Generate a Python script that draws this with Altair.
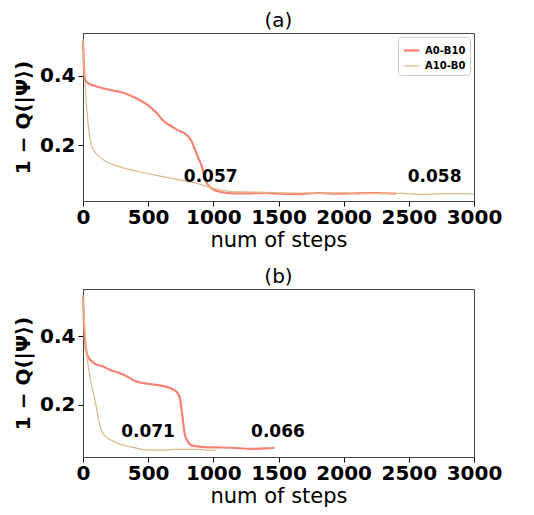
import altair as alt
import pandas as pd

# Panel (a)
a_red_x = [0, 12, 20, 40, 100, 200, 320, 420, 500, 560, 627, 680, 729, 780, 806, 835, 857, 880, 908, 930, 946, 975, 1010, 1060, 1138, 1250, 1394, 1500, 1650, 1800, 1950, 2100, 2250, 2400]
a_red_y = [0.50, 0.40, 0.386, 0.378, 0.370, 0.360, 0.350, 0.333, 0.315, 0.295, 0.267, 0.255, 0.243, 0.235, 0.226, 0.21, 0.19, 0.168, 0.143, 0.115, 0.095, 0.080, 0.071, 0.066, 0.062, 0.062, 0.063, 0.061, 0.060, 0.063, 0.061, 0.062, 0.063, 0.061]
a_brn_x = [0, 8, 18, 38, 64, 90, 115, 170, 243, 350, 499, 600, 678, 780, 882, 950, 1010, 1138, 1250, 1394, 1550, 1700, 1850, 2000, 2150, 2300, 2450, 2600, 2750, 2900, 3000]
a_brn_y = [0.505, 0.43, 0.362, 0.267, 0.200, 0.182, 0.171, 0.155, 0.143, 0.131, 0.119, 0.111, 0.105, 0.098, 0.090, 0.082, 0.076, 0.067, 0.066, 0.065, 0.063, 0.063, 0.062, 0.063, 0.061, 0.062, 0.062, 0.059, 0.061, 0.061, 0.060]
a_lab_x = [980, 2698]
a_lab_y = [0.109, 0.109]
a_lab_t = ["0.057", "0.058"]

# Panel (b)
b_red_x = [0, 10, 20, 38, 90, 150, 217, 270, 320, 370, 422, 500, 575, 630, 678, 710, 729, 745, 754, 768, 780, 800, 831, 880, 933, 1040, 1138, 1292, 1400, 1471]
b_red_y = [0.52, 0.42, 0.37, 0.340, 0.320, 0.312, 0.300, 0.294, 0.286, 0.275, 0.266, 0.261, 0.257, 0.253, 0.247, 0.240, 0.232, 0.215, 0.193, 0.150, 0.115, 0.095, 0.081, 0.078, 0.076, 0.075, 0.074, 0.071, 0.072, 0.074]
b_brn_x = [0, 12, 26, 45, 64, 85, 102, 120, 141, 170, 217, 290, 371, 430, 499, 600, 700, 754, 882, 960, 1023]
b_brn_y = [0.52, 0.43, 0.359, 0.30, 0.260, 0.225, 0.193, 0.155, 0.125, 0.108, 0.096, 0.084, 0.076, 0.071, 0.068, 0.067, 0.069, 0.069, 0.069, 0.067, 0.066]
b_lab_x = [499, 1496]
b_lab_y = [0.12, 0.12]
b_lab_t = ["0.071", "0.066"]

series = ["A0-B10", "A10-B0"]
colors = ["#fa8072", "#deb887"]
widths = [2.2, 1.2]
x_ticks = [0, 500, 1000, 1500, 2000, 2500, 3000]
y_ticks = [0.2, 0.4]


def lines_df(rx, ry, bx, by):
    rows = [{"step": x, "val": y, "series": series[0]} for x, y in zip(rx, ry)]
    rows += [{"step": x, "val": y, "series": series[1]} for x, y in zip(bx, by)]
    return pd.DataFrame(rows)


def legend():
    return alt.Legend(title=None, orient="top-right", labelFontSize=10,
                      labelFontWeight="bold", labelFont="DejaVu Sans",
                      labelColor="black", symbolType="stroke",
                      symbolSize=250, strokeColor="#ccc", padding=4,
                      cornerRadius=3, fillColor="white", offset=4,
                      rowPadding=1)


def panel(df, lab, title, ydom):
    x = alt.X("step:Q", scale=alt.Scale(domain=[0, 3000], nice=False),
              axis=alt.Axis(values=x_ticks, title="num of steps", grid=False, format="d",
                            labelOverlap=False, labelFlush=False,
                            labelFontSize=20, labelFontWeight="bold", labelFont="DejaVu Sans",
                            labelColor="black", titleFont="DejaVu Sans", titleFontSize=21,
                            titleFontWeight="normal", titleColor="black", tickColor="black",
                            domainColor="#444", labelPadding=1, titlePadding=2))
    y = alt.Y("val:Q", scale=alt.Scale(domain=ydom, nice=False, zero=False),
              axis=alt.Axis(values=y_ticks, title="1 − Q(|Ψ⟩)", grid=False, format=".1f",
                            labelOverlap=False, labelFlush=False,
                            labelFontSize=20, labelFontWeight="bold", labelFont="DejaVu Sans",
                            labelColor="black", titleFont="DejaVu Sans", titleFontSize=20,
                            titleFontWeight="bold", titleColor="black", tickColor="black",
                            domainColor="#444", labelPadding=3, titlePadding=6))
    line = alt.Chart(df).mark_line(interpolate="monotone").encode(
        x=x, y=y,
        color=alt.Color("series:N", scale=alt.Scale(domain=series, range=colors), legend=legend()),
        strokeWidth=alt.StrokeWidth("series:N", scale=alt.Scale(domain=series, range=widths),
                                    legend=legend()),
    )
    text = alt.Chart(lab).mark_text(fontSize=17, fontWeight="bold", font="DejaVu Sans",
                                    color="black").encode(x="x:Q", y="y:Q", text="t:N")
    return alt.layer(line, text).properties(
        width=391, height=168,
        view=alt.ViewBackground(stroke="#444", strokeWidth=1),
        title=alt.TitleParams(title, fontSize=20, fontWeight="normal", font="DejaVu Sans",
                              color="black", offset=2))


dfa = lines_df(a_red_x, a_red_y, a_brn_x, a_brn_y)
dfb = lines_df(b_red_x, b_red_y, b_brn_x, b_brn_y)
laba = pd.DataFrame({"x": a_lab_x, "y": a_lab_y, "t": a_lab_t})
labb = pd.DataFrame({"x": b_lab_x, "y": b_lab_y, "t": b_lab_t})

chart = alt.vconcat(
    panel(dfa, laba, "(a)", [0.04, 0.523]),
    panel(dfb, labb, "(b)", [0.047, 0.538]),
    spacing=15,
).resolve_scale(y="independent").configure_view(stroke="#444", strokeWidth=1).configure(
    padding={"left": 5, "top": 2, "right": 5, "bottom": 0}, background="white")

chart.save("out.html", embed_options={"renderer": "svg", "actions": False})
